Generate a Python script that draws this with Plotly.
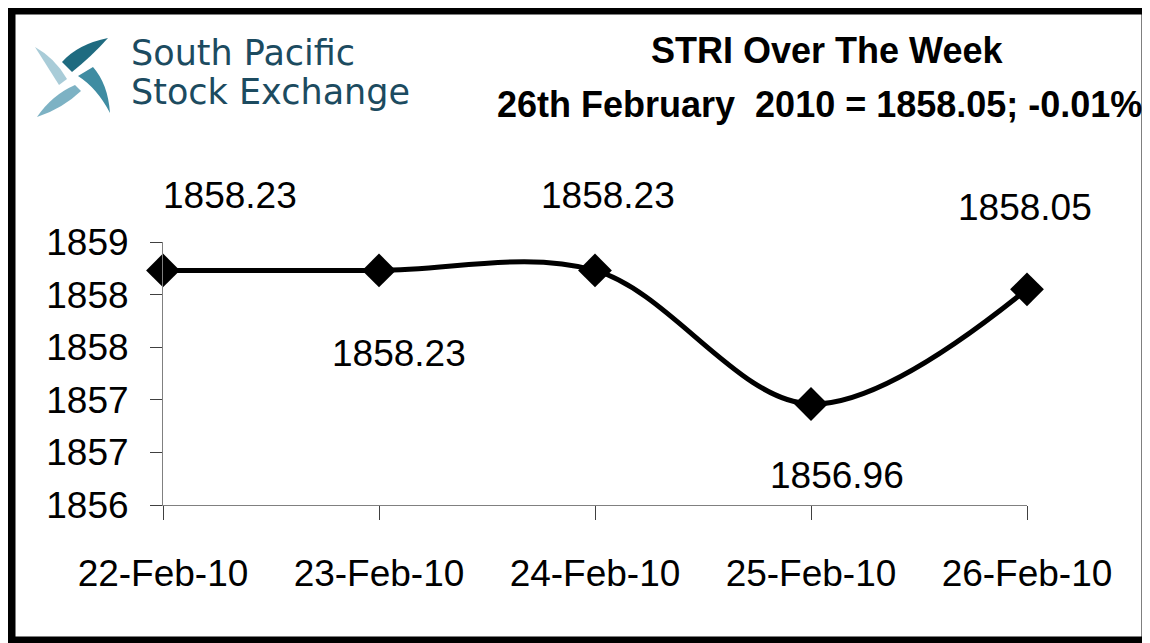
import plotly.graph_objects as go

# ---------------- data ----------------
dates = ["22-Feb-10", "23-Feb-10", "24-Feb-10", "25-Feb-10", "26-Feb-10"]
stri = [1858.23, 1858.23, 1858.23, 1856.96, 1858.05]
y_tickvals = [1856.0, 1856.5, 1857.0, 1857.5, 1858.0, 1858.5]
y_ticktext = ["1856", "1857", "1857", "1858", "1858", "1859"]
title_line1 = "STRI Over The Week"
title_line2 = "26th February  2010 = 1858.05; -0.01%"
logo_line1 = "South Pacific"
logo_line2 = "Stock Exchange"

# label offsets (pixels) for the data labels
label_dx = [67, 20, 13, 26, -2]
label_dy = [75, -83, 75, -71, 82]

# ---------------- layout geometry ----------------
OFF = 8  # page body margin
W, H = 1150 - OFF, 643 - OFF
L, T = 163 - OFF, 242 - OFF
R, B = W - (1027 - OFF), H - (505 - OFF)
PW, PH = W - L - R, H - T - B


def px(x):
    return (x - OFF - L) / PW


def py(y):
    return (H - B - (y - OFF)) / PH


def path(cmds):
    out = []
    for c in cmds:
        if isinstance(c, str):
            out.append(c)
        else:
            out.append(f"{px(c[0]):.5f},{py(c[1]):.5f}")
    return " ".join(out)


FONT = "Liberation Sans, Arial, sans-serif"

fig = go.Figure()
fig.add_trace(go.Scatter(
    x=dates, y=stri, mode="lines+markers",
    line=dict(color="black", width=5, shape="spline", smoothing=1.0),
    marker=dict(symbol="diamond", size=26, color="black"),
    cliponaxis=False, showlegend=False, hoverinfo="x+y",
))

annotations = []
for d, v, dx, dy in zip(dates, stri, label_dx, label_dy):
    annotations.append(dict(
        x=d, y=v, xref="x", yref="y", text=f"{v:.2f}", showarrow=False,
        xanchor="center", yanchor="middle", xshift=dx, yshift=dy,
        font=dict(family=FONT, size=37, color="black"),
    ))

# titles
annotations.append(dict(
    x=px(649), y=py(51), xref="paper", yref="paper", text=f"<b>{title_line1}</b>",
    showarrow=False, xanchor="left", yanchor="middle",
    font=dict(family=FONT, size=36, color="black")))
annotations.append(dict(
    x=px(495), y=py(104), xref="paper", yref="paper", text=f"<b>{title_line2}</b>",
    showarrow=False, xanchor="left", yanchor="middle",
    font=dict(family=FONT, size=36, color="black")))

# logo text
LOGO_COL = "#1c4b60"
annotations.append(dict(
    x=px(129), y=py(53), xref="paper", yref="paper", text=logo_line1,
    showarrow=False, xanchor="left", yanchor="middle",
    font=dict(family="DejaVu Sans, sans-serif", size=35, color=LOGO_COL)))
annotations.append(dict(
    x=px(129), y=py(92), xref="paper", yref="paper", text=logo_line2,
    showarrow=False, xanchor="left", yanchor="middle",
    font=dict(family="DejaVu Sans, sans-serif", size=35, color=LOGO_COL)))

shapes = []
# logo icon blades
blades = [
    ("#a9ccd8", ["M", (35, 47), "L", (59, 85), "L", (67, 79), "Q", (55, 58), (35, 47), "Z"]),
    ("#1f6b80", ["M", (62, 62), "Q", (78, 44), (108, 38), "Q", (92, 56), (72, 72), "Z"]),
    ("#3f8ca2", ["M", (78, 76), "Q", (97, 88), (110, 113), "Q", (108, 84), (93, 67), "Z"]),
    ("#7db2c4", ["M", (37, 117), "Q", (52, 95), (75, 85), "L", (81, 91), "Q", (62, 109), (37, 117), "Z"]),
]
for col, cmds in blades:
    shapes.append(dict(type="path", xref="paper", yref="paper", path=path(cmds),
                       fillcolor=col, line=dict(width=0), layer="above"))

# outer frame
shapes.append(dict(type="rect", xref="paper", yref="paper",
                   x0=px(11), x1=px(1146), y0=py(641), y1=py(10),
                   line=dict(color="black", width=9), fillcolor="rgba(0,0,0,0)",
                   layer="above"))

fig.update_layout(
    width=W, height=H,
    margin=dict(l=L, r=R, t=T, b=B, pad=0),
    paper_bgcolor="white", plot_bgcolor="white",
    showlegend=False,
    annotations=annotations, shapes=shapes,
    xaxis=dict(
        type="category", range=[0, len(dates) - 1],
        showline=True, linecolor="#808080", linewidth=1,
        ticks="outside", ticklen=14, tickcolor="#404040", tickwidth=1,
        tickfont=dict(family=FONT, size=37, color="black"),
        ticklabelstandoff=22,
        showgrid=False, zeroline=False, fixedrange=True,
    ),
    yaxis=dict(
        range=[1856, 1858.5], tickvals=y_tickvals, ticktext=y_ticktext,
        showline=True, linecolor="#808080", linewidth=1,
        ticks="outside", ticklen=12, tickcolor="#404040", tickwidth=1,
        tickfont=dict(family=FONT, size=37, color="black"),
        ticklabelstandoff=14,
        showgrid=False, zeroline=False, fixedrange=True,
    ),
)

fig.write_html("out.html")
